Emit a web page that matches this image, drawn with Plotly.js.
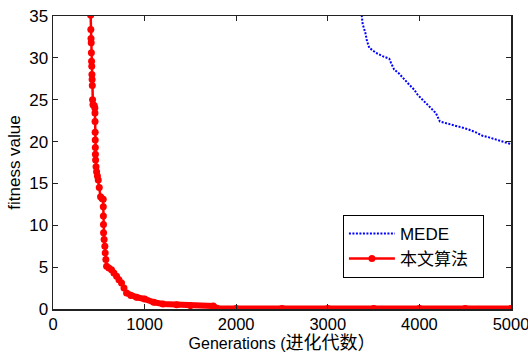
<!DOCTYPE html>
<html>
<head>
<meta charset="utf-8">
<script src="https://cdn.plot.ly/plotly-3.0.1.min.js"></script>
<style>html,body{margin:0;padding:0;background:#fff;}#chart{width:528px;height:358px;}</style>
</head>
<body>
<div id="chart"></div>
<script>
// Proposed algorithm (本文算法)
var oursGen = [409, 411, 413, 415, 417, 419, 421, 423, 425, 427, 429, 432, 436, 450, 457, 458, 459, 460, 461, 462, 463, 465, 470, 476, 485, 494, 505, 519, 535, 548, 549, 550, 551, 552, 558, 566, 570, 577, 585, 610, 639, 665, 694, 720, 748, 775, 803, 850, 912, 1000, 1100, 1200, 1350, 1500, 1750, 1790, 2000, 2500, 3000, 3500, 4000, 4500, 5000];
var oursFit = [36, 35.1, 33.4, 32.3, 31.8, 30.6, 29.6, 29.0, 28.0, 27.4, 26.7, 25.0, 24.4, 24.3, 24.0, 23.4, 22.4, 21.1, 20.2, 19.3, 18.5, 17.8, 17.0, 16.4, 15.9, 15.4, 14.5, 13.4, 13.2, 13.1, 12.2, 11.1, 10.1, 9.1, 8.3, 7.5, 6.7, 5.9, 5.1, 4.9, 4.7, 4.3, 3.9, 3.5, 3.1, 2.5, 1.9, 1.6, 1.4, 1.2, 0.8, 0.6, 0.5, 0.4, 0.35, 0.08, 0.06, 0.05, 0.05, 0.05, 0.05, 0.05, 0.05];
// MEDE
var medeGen = [3340, 3370, 3381, 3410, 3428, 3453, 3526, 3598, 3671, 3690, 3725, 3780, 3834, 3889, 3943, 3980, 4034, 4107, 4180, 4223, 4289, 4379, 4452, 4524, 4616, 4688, 4760, 4851, 4924, 4997];
var medeFit = [38, 35.0, 34.0, 33.0, 32.0, 31.2, 30.6, 30.2, 29.9, 29.4, 28.6, 28.1, 27.4, 26.8, 26.2, 25.6, 25.0, 24.2, 23.4, 22.4, 22.2, 22.0, 21.7, 21.5, 21.1, 20.7, 20.5, 20.2, 19.9, 19.7];
var xTicks = [0, 1000, 2000, 3000, 4000, 5000];
var yTicks = [0, 5, 10, 15, 20, 25, 30, 35];

var FONT = '"Liberation Sans Narrow", "Arial Narrow", "Liberation Sans", Arial, "Noto Sans CJK SC", sans-serif';

// dense markers in the original render as a thick band from here on
var tailStart = oursGen.indexOf(803);
var traces = [
  {
    x: medeGen, y: medeFit, name: 'MEDE&nbsp;&nbsp;', type: 'scatter', mode: 'lines',
    line: {color: '#0000ff', width: 2, dash: '2px,1.5px'}
  },
  {
    x: oursGen, y: oursFit, name: '本文算法&nbsp;&nbsp;', type: 'scatter', mode: 'lines+markers',
    line: {color: '#ff0000', width: 2.5},
    marker: {color: '#ff0000', size: 7, symbol: 'circle'}
  },
  {
    x: oursGen.slice(tailStart), y: oursFit.slice(tailStart), type: 'scatter', mode: 'lines',
    line: {color: '#ff0000', width: 6}, showlegend: false, hoverinfo: 'skip', cliponaxis: false
  }
];

var axisCommon = {
  showgrid: false, zeroline: false, showline: true, mirror: 'ticks',
  linecolor: '#222', linewidth: 1.5, ticks: 'inside', ticklen: 5, tickwidth: 1, tickcolor: '#222',
  tickfont: {family: FONT, size: 17, color: '#000'}, ticklabeloverflow: 'allow'
};

var layout = {
  width: 528, height: 358,
  margin: {l: 53, r: 17, t: 16, b: 49},
  paper_bgcolor: '#fff', plot_bgcolor: '#fff',
  font: {family: FONT, color: '#000'},
  showlegend: true,
  xaxis: Object.assign({}, axisCommon, {
    range: [0, 5000], tickvals: xTicks, ticktext: xTicks.map(String),
    tickfont: {family: FONT, size: 16.5, color: '#000'},
    title: {text: 'Generations (<span style="font-size:18px">进化代数）</span>', font: {family: FONT, size: 16, color: '#000'}, standoff: 5}
  }),
  yaxis: Object.assign({}, axisCommon, {
    range: [0, 35], tickvals: yTicks, ticktext: yTicks.map(String),
    title: {text: 'fitness value', font: {family: FONT, size: 17, color: '#000'}, standoff: 4}
  }),
  legend: {
    x: 0.633, y: 0.321, xanchor: 'left', yanchor: 'top',
    bgcolor: '#fff', bordercolor: '#000', borderwidth: 1, itemwidth: 46,
    font: {family: FONT, size: 17, color: '#000'}
  }
};

Plotly.newPlot('chart', traces, layout, {displayModeBar: false, staticPlot: true});
</script>
</body>
</html>
